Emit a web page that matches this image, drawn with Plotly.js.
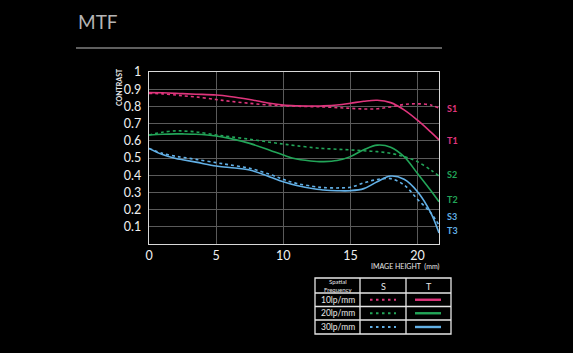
<!DOCTYPE html>
<html><head><meta charset="utf-8">
<script src="https://cdn.plot.ly/plotly-3.0.1.min.js"></script>
<style>html,body{margin:0;padding:0;background:#000;}#chart{width:573px;height:353px;}</style>
</head><body><div id="chart"></div>
<script>
// Image height (mm)
const heights = [0, 1, 2, 2.5, 3.5, 5, 6, 7.5, 9, 10, 11, 12.5, 13, 14, 15, 16, 17, 18, 19, 20, 21, 21.6];
// 10 lp/mm
const s10 = [0.876, 0.873, 0.866, 0.862, 0.855, 0.840, 0.830, 0.818, 0.808, 0.804, 0.801, 0.798, 0.797, 0.793, 0.789, 0.785, 0.786, 0.797, 0.811, 0.815, 0.808, 0.790];
const t10 = [0.880, 0.879, 0.876, 0.874, 0.871, 0.866, 0.858, 0.840, 0.818, 0.808, 0.804, 0.802, 0.803, 0.808, 0.818, 0.830, 0.836, 0.822, 0.780, 0.720, 0.650, 0.605];
// 20 lp/mm
const s20 = [0.634, 0.650, 0.658, 0.657, 0.652, 0.634, 0.624, 0.609, 0.592, 0.581, 0.571, 0.558, 0.555, 0.551, 0.547, 0.542, 0.537, 0.527, 0.508, 0.478, 0.430, 0.395];
const t20 = [0.634, 0.638, 0.640, 0.640, 0.638, 0.628, 0.614, 0.585, 0.545, 0.517, 0.494, 0.480, 0.479, 0.485, 0.508, 0.548, 0.575, 0.563, 0.508, 0.410, 0.310, 0.246];
// 30 lp/mm
const s30 = [0.556, 0.527, 0.510, 0.504, 0.492, 0.473, 0.460, 0.440, 0.405, 0.376, 0.352, 0.332, 0.328, 0.326, 0.330, 0.355, 0.375, 0.380, 0.343, 0.260, 0.180, 0.110];
const t30 = [0.556, 0.520, 0.497, 0.490, 0.476, 0.453, 0.445, 0.430, 0.390, 0.362, 0.340, 0.318, 0.314, 0.310, 0.310, 0.322, 0.362, 0.395, 0.376, 0.304, 0.180, 0.064];
const yTicks = [0.1, 0.2, 0.3, 0.4, 0.5, 0.6, 0.7, 0.8, 0.9, 1];
const xTicks = [0, 5, 10, 15, 20];
const freqLabels = ['10lp/mm', '20lp/mm', '30lp/mm'];
const endLabels = [['S1', 0.79], ['T1', 0.60], ['S2', 0.407], ['T2', 0.256], ['S3', 0.159], ['T3', 0.077]];

const PINK = '#e0357d', GREEN = '#22a558', BLUE = '#62b0e6';
const colors = [PINK, GREEN, BLUE];

function line(y, color, dash) {
  return {x: heights, y: y, type: 'scatter', mode: 'lines',
    line: {color: color, width: 1.6, dash: dash ? 'dot' : 'solid', shape: 'spline', smoothing: 1},
    hoverinfo: 'skip', showlegend: false};
}
const data = [
  line(s30, BLUE, true), line(t30, BLUE, false),
  line(s20, GREEN, true), line(t20, GREEN, false),
  line(s10, PINK, true), line(t10, PINK, false)
];

// plot area pixels
const L = 149, R = 439, T = 72, B = 244;
const px = v => (v - L) / (R - L);
const py = v => (B - v) / (B - T);

const FONT = 'Lato, "Open Sans", sans-serif';
const shapes = [];
const annotations = [];
function note(x, y, text, size, color, extra) {
  annotations.push(Object.assign({xref: 'paper', yref: 'paper', x: px(x), y: py(y), text: text, showarrow: false,
    xanchor: 'center', yanchor: 'middle', font: {family: FONT, size: size, color: color}}, extra || {}));
}

// header rule
shapes.push({type: 'line', xref: 'paper', yref: 'paper', x0: px(76), x1: px(442), y0: py(48), y1: py(48), line: {color: '#bdbdbd', width: 1.2}});
note(76, 22, 'MTF', 19, '#b5b5b5', {xanchor: 'left'});
note(119, 87, '<b>CONTRAST</b>', 7, '#e8e8e8', {textangle: -90});
note(405, 266, 'IMAGE HEIGHT  (mm)', 7, '#e8e8e8');

// end labels
const labelColors = [PINK, PINK, GREEN, GREEN, BLUE, BLUE];
endLabels.forEach((e, i) => {
  annotations.push({xref: 'paper', yref: 'y', x: px(445), y: e[1], text: '<b>' + e[0] + '</b>', showarrow: false, xanchor: 'left', yanchor: 'middle', font: {family: FONT, size: 9, color: labelColors[i]}});
});

// legend table
const cols = [315, 360, 406, 451];
const rows = [278, 293, 306.5, 320, 334];
const tc = '#e6e6e6';
shapes.push({type: 'rect', xref: 'paper', yref: 'paper', x0: px(cols[0]), x1: px(cols[3]), y0: py(rows[0]), y1: py(rows[4]), line: {color: tc, width: 1.3}});
for (let i = 1; i < 3; i++) shapes.push({type: 'line', xref: 'paper', yref: 'paper', x0: px(cols[i]), x1: px(cols[i]), y0: py(rows[0]), y1: py(rows[4]), line: {color: tc, width: 1.3}});
for (let j = 1; j < 4; j++) shapes.push({type: 'line', xref: 'paper', yref: 'paper', x0: px(cols[0]), x1: px(cols[3]), y0: py(rows[j]), y1: py(rows[j]), line: {color: tc, width: 1.3}});
const hy = (rows[0] + rows[1]) / 2;
note((cols[0] + cols[1]) / 2, hy, 'Spatial<br>Frequency', 6, tc, {align: 'center'});
note((cols[1] + cols[2]) / 2, hy + 0.5, 'S', 9, tc);
note((cols[2] + cols[3]) / 2, hy + 0.5, 'T', 9, tc);
freqLabels.forEach((f, k) => {
  const yc = (rows[k + 1] + rows[k + 2]) / 2;
  note((cols[0] + cols[1]) / 2, yc, f, 8.5, tc);
  shapes.push({type: 'line', xref: 'paper', yref: 'paper', x0: px(370), x1: px(396), y0: py(yc), y1: py(yc), line: {color: colors[k], width: 2.2, dash: '2.5px,3.5px'}});
  shapes.push({type: 'line', xref: 'paper', yref: 'paper', x0: px(415), x1: px(441), y0: py(yc), y1: py(yc), line: {color: colors[k], width: 2.4}});
});

const layout = {
  width: 573, height: 353,
  paper_bgcolor: '#000', plot_bgcolor: '#000',
  margin: {l: L, r: 573 - R, t: T, b: 353 - B},
  showlegend: false,
  font: {family: FONT, color: '#f0f0f0'},
  xaxis: {range: [0, 21.6], tickvals: xTicks, ticktext: xTicks.map(String), showgrid: true, gridcolor: '#5a5a5a', gridwidth: 1,
    zeroline: false, showline: true, mirror: true, linecolor: '#d8d8d8', linewidth: 1.3, ticks: '', tickfont: {family: FONT, size: 12.5, color: '#f0f0f0'}, fixedrange: true},
  yaxis: {range: [0, 1], tickvals: yTicks, ticktext: yTicks.map(String), showgrid: true, gridcolor: '#5a5a5a', gridwidth: 1,
    zeroline: false, showline: true, mirror: true, linecolor: '#d8d8d8', linewidth: 1.3, ticks: '', ticklabelstandoff: 4, tickfont: {family: FONT, size: 12.5, color: '#f0f0f0'}, fixedrange: true},
  shapes: shapes,
  annotations: annotations
};
Plotly.newPlot('chart', data, layout, {displayModeBar: false, staticPlot: true});
</script></body></html>
